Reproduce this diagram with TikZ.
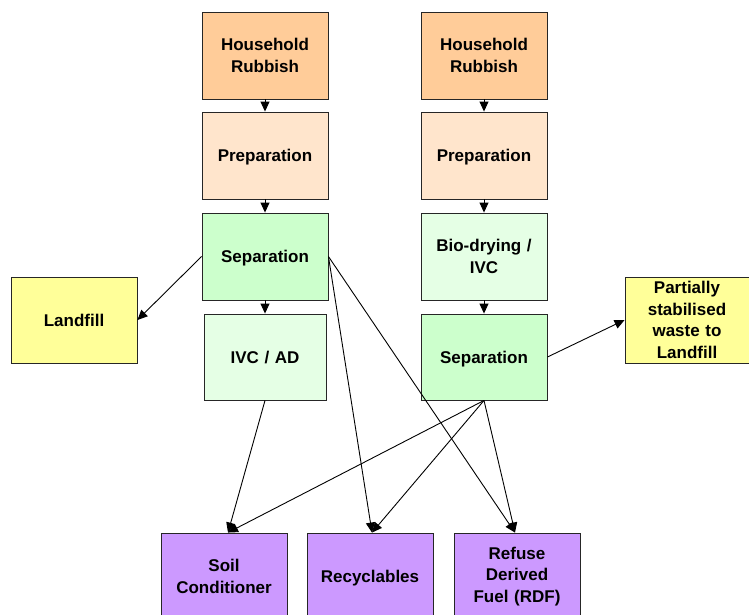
\documentclass[tikz,border=0pt]{standalone}
\usepackage{fontspec}
\setmainfont{Liberation Sans}
\usetikzlibrary{arrows.meta,calc}
\definecolor{cHR}{HTML}{FFCC99}
\definecolor{cPrep}{HTML}{FFE5CC}
\definecolor{cSep}{HTML}{CCFFCC}
\definecolor{cLight}{HTML}{E5FFE5}
\definecolor{cYel}{HTML}{FFFF99}
\definecolor{cPur}{HTML}{CC99FF}
\tikzset{
  box/.style={draw=black!85, line width=0.9pt, rectangle, minimum width=126pt, minimum height=87pt,
    inner sep=2pt, align=center, text width=118pt,
    font=\fontsize{17}{21.5}\selectfont\bfseries},
  onel/.style={text depth=0pt},
  arr/.style={draw=black, line width=0.9pt, -{Triangle[length=10pt,width=9pt]}}
}
\begin{document}
\begin{tikzpicture}[x=1pt,y=-1pt]
\useasboundingbox (0,0) rectangle (749,614);
\node[box, fill=cHR] (hr1) at (265,55.5) {Household\\Rubbish};
\node[box, fill=cHR] (hr2) at (484,55.5) {Household\\Rubbish};
\node[box, onel, fill=cPrep] (pr1) at (265,155.5) {Preparation};
\node[box, onel, fill=cPrep] (pr2) at (484,155.5) {Preparation};
\node[box, onel, fill=cSep] (sp1) at (265,256.5) {Separation};
\node[box, fill=cLight] (bd) at (484,256.5) {Bio-drying /\\IVC};
\node[box, onel, fill=cLight, minimum width=122pt, minimum height=86pt] (ivc) at (265,357) {IVC / AD};
\node[box, onel, fill=cSep, minimum height=86pt] (sp2) at (484,357) {Separation};
\node[box, fill=cYel, minimum height=86pt] (lf) at (74,320) {Landfill};
\node[box, fill=cYel, minimum width=124pt, minimum height=86pt] (ps) at (687,320) {Partially\\stabilised\\waste to\\Landfill};
\node[box, fill=cPur] (soil) at (224,576.5) {Soil\\Conditioner};
\node[box, onel, fill=cPur] (recy) at (370,576.5) {Recyclables};
\node[box, fill=cPur] (rdf) at (517,576.5) {Refuse\\Derived\\Fuel (RDF)};
\coordinate (soilin) at ($(soil.north)+(4,0)$);
\coordinate (recyin) at ($(recy.north)+(2,0)$);
\coordinate (rdfin) at ($(rdf.north)+(-2,0)$);
\draw[arr] (hr1) -- (pr1);
\draw[arr] (hr2) -- (pr2);
\draw[arr] (pr1) -- (sp1);
\draw[arr] (pr2) -- (bd);
\draw[arr] (sp1) -- (ivc);
\draw[arr] (bd) -- (sp2);
\draw[arr] (sp1.west) -- (lf.east);
\draw[arr] (sp1.east) -- (recyin);
\draw[arr] (sp1.east) -- (rdfin);
\draw[arr] (ivc.south) -- (soilin);
\draw[arr] (sp2.south) -- (soilin);
\draw[arr] (sp2.south) -- (recyin);
\draw[arr] (sp2.south) -- (rdfin);
\draw[arr] (sp2.east) -- (ps.west);
\end{tikzpicture}
\end{document}
